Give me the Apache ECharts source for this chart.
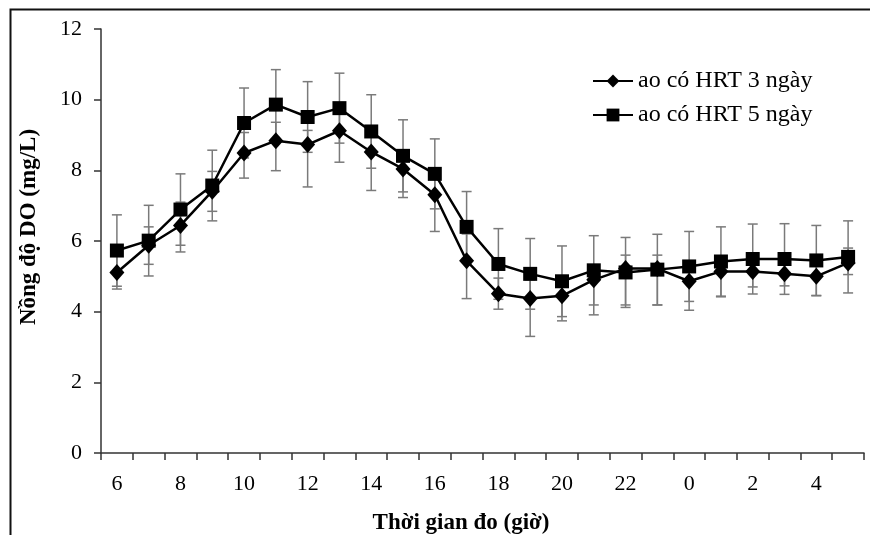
<!DOCTYPE html>
<html>
<head>
<meta charset="utf-8">
<script src="https://cdn.jsdelivr.net/npm/echarts@6/dist/echarts.min.js"></script>
<style>
html,body{margin:0;padding:0;background:#fff;}
#chart{width:870px;height:535px;}
</style>
</head>
<body>
<div id="chart"></div>
<script>
// Categories: measurement hour
const hours = ['6','7','8','9','10','11','12','13','14','15','16','17','18','19','20','21','22','23','0','1','2','3','4','5'];

// Series: ao có HRT 3 ngày (diamond)
const do3 = [5.11,5.88,6.44,7.41,8.49,8.84,8.73,9.12,8.52,8.04,7.31,5.44,4.51,4.37,4.45,4.90,5.22,5.22,4.86,5.14,5.14,5.07,5.00,5.38];
const do3Low = [4.64,5.34,5.69,6.84,7.78,7.99,7.53,8.23,7.43,7.23,6.27,4.37,4.07,3.30,3.74,3.91,4.19,4.19,4.04,4.42,4.70,4.73,4.45,5.05];
const do3High = [5.58,6.40,7.10,7.97,9.07,9.36,9.13,9.60,9.00,8.40,7.80,6.20,4.95,4.90,4.80,5.30,5.60,5.60,5.20,5.40,5.50,5.40,5.40,5.80];

// Series: ao có HRT 5 ngày (square)
const do5 = [5.73,6.01,6.89,7.57,9.34,9.86,9.51,9.76,9.10,8.41,7.90,6.40,5.35,5.07,4.86,5.17,5.11,5.19,5.28,5.42,5.49,5.49,5.45,5.55];
const do5Err = [1.01,1.00,1.01,1.00,0.99,0.99,1.00,0.99,1.04,1.02,0.99,1.00,1.00,1.00,1.00,0.98,0.99,1.00,0.99,0.98,0.99,1.00,0.99,1.02];

const seriesNames = ['ao có HRT 3 ngày','ao có HRT 5 ngày'];

const err3 = hours.map((h,i)=>[i, do3Low[i], do3High[i]]);
const err5 = hours.map((h,i)=>[i, do5[i]-do5Err[i], do5[i]+do5Err[i]]);

function errRender(params, api){
  const i = api.value(0);
  const lo = api.coord([i, api.value(1)]);
  const hi = api.coord([i, api.value(2)]);
  const half = 5;
  const st = {stroke:'#7a7a7a', lineWidth:1.5, fill:'none'};
  return {type:'group', children:[
    {type:'line', shape:{x1:lo[0],y1:lo[1],x2:hi[0],y2:hi[1]}, style:st},
    {type:'line', shape:{x1:lo[0]-half,y1:lo[1],x2:lo[0]+half,y2:lo[1]}, style:st},
    {type:'line', shape:{x1:hi[0]-half,y1:hi[1],x2:hi[0]+half,y2:hi[1]}, style:st}
  ]};
}

const serif = '"Liberation Serif","Times New Roman",serif';
const chart = echarts.init(document.getElementById('chart'));
chart.setOption({
  animation:false,
  backgroundColor:'#fff',
  graphic:[{type:'rect', left:8, top:7, z:-1, shape:{width:900,height:600}, style:{fill:'none', stroke:'#111', lineWidth:2}}],
  grid:{left:101, right:6, top:29, bottom:82, containLabel:false, outerBoundsMode:'none'},
  legend:{
    orient:'vertical', left:592, top:69, padding:0, itemWidth:40, itemHeight:16, itemGap:10,
    data:seriesNames,
    textStyle:{fontFamily:serif, fontSize:24, color:'#000'}
  },
  xAxis:{
    type:'category', data:hours, boundaryGap:true,
    name:'Thời gian đo (giờ)', nameLocation:'middle', nameGap:59,
    nameTextStyle:{fontFamily:serif, fontSize:23, fontWeight:'bold', color:'#000', padding:[0,43,0,0]},
    axisLine:{lineStyle:{color:'#333', width:1.5}},
    axisTick:{show:true, interval:0, length:7, lineStyle:{color:'#333', width:1.5}},
    axisLabel:{interval:1, margin:20, fontFamily:serif, fontSize:22, color:'#000'},
    splitLine:{show:false}
  },
  yAxis:{
    type:'value', min:0, max:12, interval:2,
    name:'Nồng độ DO (mg/L)', nameLocation:'middle', nameGap:60,
    nameTextStyle:{fontFamily:serif, fontSize:23, fontWeight:'bold', color:'#000', padding:[0,0,0,28]},
    axisLine:{show:true, lineStyle:{color:'#333', width:1.5}},
    axisTick:{show:true, length:7, lineStyle:{color:'#333', width:1.5}},
    axisLabel:{margin:19, fontFamily:serif, fontSize:22, color:'#000'},
    splitLine:{show:false}
  },
  series:[
    {type:'custom', name:'err3', renderItem:errRender, data:err3, encode:{x:0,y:[1,2]}, z:1, silent:true},
    {type:'custom', name:'err5', renderItem:errRender, data:err5, encode:{x:0,y:[1,2]}, z:1, silent:true},
    {type:'line', name:seriesNames[0], data:do3, symbol:'diamond', symbolSize:[15,17], z:3,
      itemStyle:{color:'#000'}, lineStyle:{color:'#000', width:2.5}},
    {type:'line', name:seriesNames[1], data:do5, symbol:'rect', symbolSize:14, z:3,
      itemStyle:{color:'#000'}, lineStyle:{color:'#000', width:2.5}}
  ]
});
</script>
</body>
</html>
